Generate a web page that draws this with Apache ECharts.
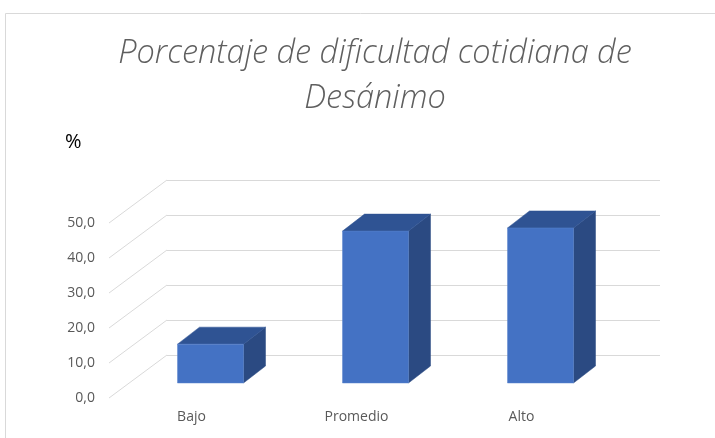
<!DOCTYPE html>
<html>
<head>
<meta charset="utf-8">
<script src="https://cdn.jsdelivr.net/npm/echarts@6/dist/echarts.min.js"></script>
<style>
  html, body { margin: 0; padding: 0; background: #fff; }
  #chart { width: 715px; height: 438px; }
</style>
</head>
<body>
<div id="chart"></div>
<script>
// datos del gráfico
const categorias = ['Bajo', 'Promedio', 'Alto']
const porcentajes = [11.1, 43.4, 44.3]
const ticks = [0, 10, 20, 30, 40, 50]

// desplazamientos del efecto 3D (px)
const fondo = [58, -43]   // del plano frontal a la pared del fondo
const prof = [22, -17]    // profundidad de cada barra

let myChart = echarts.init(document.getElementById('chart'))

const ejeY = (i, labels) => ({
  gridIndex: i,
  type: 'value',
  min: 0,
  max: 50,
  interval: 10,
  axisLine: { show: false },
  axisTick: { show: false },
  splitLine: { show: i === 1, lineStyle: { color: '#d9d9d9', width: 1 } },
  axisLabel: {
    show: labels,
    margin: 14,
    color: '#595959',
    fontSize: 14,
    fontFamily: 'Open Sans',
    formatter: v => v.toFixed(1).replace('.', ','),
  },
})

const ejeX = (i, labels) => ({
  gridIndex: i,
  type: 'category',
  data: categorias,
  axisLine: { show: false },
  axisTick: { show: false },
  splitLine: { show: false },
  axisLabel: {
    show: labels,
    margin: 12,
    color: '#595959',
    fontSize: 14,
    fontFamily: 'Open Sans',
  },
})

myChart.setOption({
  animation: false,
  title: {
    text: 'Porcentaje de dificultad cotidiana de\nDesánimo',
    left: 370,
    textAlign: 'center',
    top: 26,
    textStyle: {
      color: '#5f5f5f',
      fontSize: 32.5,
      fontStyle: 'italic',
      fontWeight: 300,
      fontFamily: 'Open Sans',
      lineHeight: 45,
    },
  },
  graphic: [
    {
      type: 'rect',
      shape: { x: 5.5, y: 13.5, width: 720, height: 440 },
      style: { fill: 'none', stroke: '#d9d9d9', lineWidth: 1 },
      silent: true,
    },
    {
      type: 'text',
      left: 65,
      top: 132,
      style: { text: '%', fill: '#000', font: '20px "Open Sans"' },
    },
  ],
  // 0: plano frontal, 1: pared del fondo, 2: plano de las barras
  grid: [
    { left: 109, width: 495, top: 223, height: 175 },
    { left: 167, right: 55, top: 180, height: 175 },
    { left: 128, width: 495, top: 208, height: 175 },
  ],
  xAxis: [ejeX(0, true), ejeX(1, false), ejeX(2, false)],
  yAxis: [ejeY(0, true), ejeY(1, false), ejeY(2, false)],
  series: [
    {
      // líneas diagonales del piso lateral
      type: 'custom',
      xAxisIndex: 0,
      yAxisIndex: 0,
      data: ticks.map(t => [0, t]),
      silent: true,
      z: 1,
      renderItem: function (params, api) {
        let p = api.coord([0, api.value(1)])
        let x0 = p[0] - api.size([1, 0])[0] / 2
        return {
          type: 'line',
          shape: { x1: x0, y1: p[1], x2: x0 + fondo[0], y2: p[1] + fondo[1] },
          style: { stroke: '#d9d9d9', lineWidth: 1 },
        }
      },
    },
    {
      // barras 3D
      type: 'custom',
      xAxisIndex: 2,
      yAxisIndex: 2,
      data: porcentajes.map((v, i) => [i, v]),
      z: 3,
      renderItem: function (params, api) {
        let top = api.coord([api.value(0), api.value(1)])
        let base = api.coord([api.value(0), 0])
        let w = api.size([1, 0])[0] * 0.4
        let x0 = top[0] - w / 2
        let x1 = top[0] + w / 2
        let yt = top[1]
        let yb = base[1]
        return {
          type: 'group',
          children: [
            {
              type: 'polygon',
              shape: { points: [[x1, yt], [x1 + prof[0], yt + prof[1]], [x1 + prof[0], yb + prof[1]], [x1, yb]] },
              style: { fill: '#2b4a82', stroke: '#2b4a82', lineWidth: 0.5 },
            },
            {
              type: 'polygon',
              shape: { points: [[x0, yt], [x1, yt], [x1 + prof[0], yt + prof[1]], [x0 + prof[0], yt + prof[1]]] },
              style: { fill: '#2f5393', stroke: '#2f5393', lineWidth: 0.5 },
            },
            {
              type: 'rect',
              shape: { x: x0, y: yt, width: w, height: yb - yt },
              style: { fill: '#4472c4', stroke: '#5b84cc', lineWidth: 0.5 },
            },
          ],
        }
      },
    },
  ],
})
</script>
</body>
</html>
